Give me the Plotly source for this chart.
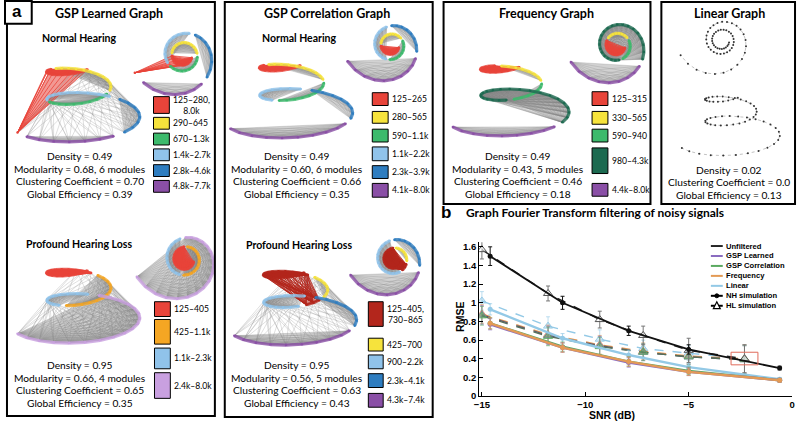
import numpy as np
import plotly.graph_objects as go

W, H = 800, 428

# ---------------- panel b: GFT filtering of noisy signals ----------------
snr_nh = [-14.6, -11.1, -7.9, -5.0, -0.6]
snr_hl = [-15.0, -11.8, -9.3, -7.2, -5.0, -2.3]

nh_unfiltered = [1.50, 1.00, 0.70, 0.50, 0.30]
nh_gsp_learned = [0.77, 0.52, 0.36, 0.26, 0.17]
nh_gsp_correlation = [0.78, 0.53, 0.37, 0.27, 0.17]
nh_frequency = [0.78, 0.52, 0.37, 0.26, 0.17]
nh_linear = [0.93, 0.62, 0.44, 0.31, 0.18]

hl_unfiltered = [1.57, 1.10, 0.82, 0.65, 0.49, 0.40]
hl_gsp_learned = [0.87, 0.65, 0.54, 0.47, 0.42, 0.39]
hl_gsp_correlation = [0.86, 0.64, 0.53, 0.47, 0.42, 0.39]
hl_frequency = [0.88, 0.66, 0.55, 0.48, 0.43, 0.40]
hl_linear = [1.02, 0.75, 0.61, 0.51, 0.46, 0.40]

nh_err_unfiltered = [0.10, 0.07, 0.05, 0.05, 0.02]
nh_err_filtered = [0.06, 0.05, 0.05, 0.04, 0.02]
hl_err_unfiltered = [0.10, 0.08, 0.09, 0.10, 0.13, 0.15]
hl_err_filtered = [0.10, 0.10, 0.10, 0.09, 0.08, 0.15]

method_names = ['Unfiltered', 'GSP Learned', 'GSP Correlation', 'Frequency', 'Linear']
method_colors = ['#111111', '#8a6cc0', '#5aa960', '#e39a55', '#93c9e6']
sim_names = ['NH simulation', 'HL simulation']

x_ticks = [-15, -10, -5, 0]
y_ticks = [0, 0.2, 0.4, 0.6, 0.8, 1, 1.2, 1.4, 1.6]

# ---------------- panel a: graph summaries ----------------
panel_titles = ['GSP Learned Graph', 'GSP Correlation Graph', 'Frequency Graph', 'Linear Graph']
hearing_titles = ['Normal Hearing', 'Profound Hearing Loss']

learned_nh_labels = ['125–280,<br>8.0k', '290–645', '670–1.3k', '1.4k–2.7k', '2.8k–4.6k', '4.8k–7.7k']
learned_nh_colors = ['#e8443a', '#f6e33c', '#3cba6c', '#90c3ea', '#2e7dc0', '#8a4fa6']
learned_nh_stats = ['Density = 0.49', 'Modularity = 0.68, 6 modules',
                    'Clustering Coefficient = 0.70', 'Global Efficiency = 0.39']

learned_hl_labels = ['125–405', '425–1.1k', '1.1k–2.3k', '2.4k–8.0k']
learned_hl_colors = ['#e8443a', '#f5a623', '#90c3ea', '#c9a0e0']
learned_hl_stats = ['Density = 0.95', 'Modularity = 0.66, 4 modules',
                    'Clustering Coefficient = 0.65', 'Global Efficiency = 0.35']

corr_nh_labels = ['125–265', '280–565', '590–1.1k', '1.1k–2.2k', '2.3k–3.9k', '4.1k–8.0k']
corr_nh_colors = ['#e8443a', '#f6e33c', '#3cba6c', '#90c3ea', '#2e7dc0', '#8a4fa6']
corr_nh_stats = ['Density = 0.49', 'Modularity = 0.60, 6 modules',
                 'Clustering Coefficient = 0.66', 'Global Efficiency = 0.35']

corr_hl_labels = ['125–405,<br>730–865', '425–700', '900–2.2k', '2.3k–4.1k', '4.3k–7.4k']
corr_hl_colors = ['#b3261c', '#f6e33c', '#90c3ea', '#2e7dc0', '#8a4fa6']
corr_hl_stats = ['Density = 0.95', 'Modularity = 0.56, 5 modules',
                 'Clustering Coefficient = 0.63', 'Global Efficiency = 0.43']

freq_labels = ['125–315', '330–565', '590–940', '980–4.3k', '4.4k–8.0k']
freq_colors = ['#e8443a', '#f6e33c', '#3cba6c', '#1c6a50', '#8a4fa6']
freq_stats = ['Density = 0.49', 'Modularity = 0.43, 5 modules',
              'Clustering Coefficient = 0.46', 'Global Efficiency = 0.18']

linear_stats = ['Density = 0.02', 'Clustering Coefficient = 0.0', 'Global Efficiency = 0.13']

FA = 'Lato'
FB = 'Liberation Sans'


def px(x):
    return x / W


def py(y):
    return 1 - y / H


annotations = []
shapes = []


def text(x, y, s, size, bold=False, anchor='center', family=FA, angle=0):
    annotations.append(dict(x=px(x), y=py(y), xref='paper', yref='paper', text=s,
                            showarrow=False, xanchor=anchor, yanchor='middle', textangle=angle,
                            font=dict(family=family, size=size, color='black',
                                      weight='bold' if bold else 'normal')))


def rect(x0, y0, x1, y1, line='black', width=1, fill=None):
    shapes.append(dict(type='rect', xref='paper', yref='paper', x0=px(x0), x1=px(x1),
                       y0=py(y1), y1=py(y0), line=dict(color=line, width=width),
                       fillcolor=fill if fill else 'rgba(0,0,0,0)', layer='above'))


def faded(c, a):
    c = c.lstrip('#')
    return 'rgba(%d,%d,%d,%.2f)' % (int(c[0:2], 16), int(c[2:4], 16), int(c[4:6], 16), a)


# ---- helpers for the cochlear graph sketches (pixel space on overlay axes) ----
def hz(tok):
    tok = tok.strip()
    return float(tok[:-1]) * 1000 if tok.endswith('k') else float(tok)


def ranges_of(label):
    out = []
    for part in label.replace('<br>', '').split(','):
        ends = [hz(t) for t in part.split('–')]
        out.append((ends[0], ends[-1]))
    return out


def modules_of(freqs, labels):
    rngs = [ranges_of(l) for l in labels]
    mod = []
    for f in freqs:
        lf = np.log(f)
        d = [min(0 if lo <= f <= hi else min(abs(lf - np.log(lo)), abs(lf - np.log(hi))) for lo, hi in r)
             for r in rngs]
        mod.append(int(np.argmin(d)))
    return np.array(mod)


N_NODES = 60
node_freqs = np.geomspace(125, 8000, N_NODES)


def spiral(cx, cy, sc, top_view):
    s = np.linspace(0, 1, N_NODES)
    if top_view:
        th = np.radians(160 - 2.4 * 360 * (1 - s))
        r = 9 + 13 * s + 30 * s ** 6
        return cx + sc * r * np.cos(th), cy + sc * r * np.sin(th)
    th = np.radians(165 - 2.3 * 360 * (1 - s))
    r = 28 + 8 * s + 42 * s ** 4
    return cx + sc * (20 * s + r * np.cos(th)), cy + sc * (65 * s + 0.32 * r * np.sin(th))


sketch_traces = []


def add_sketch(x, y, **kw):
    sketch_traces.append(go.Scatter(x=x, y=y, xaxis='x2', yaxis='y2', hoverinfo='skip',
                                    showlegend=False, **kw))


def draw_graph(cx, cy, sc, top_view, labels=None, colors=None, long_edges=False):
    x, y = spiral(cx, cy, sc, top_view)
    if labels is None:
        # linear graph: chain of nodes only
        add_sketch(x, y, mode='lines', line=dict(color='#9a9a9a', width=0.6, dash='dot'))
        add_sketch(x, y, mode='markers', marker=dict(color='#333333', size=2))
        return
    mod = modules_of(node_freqs, labels)
    # each module is densely wired: shade its hull, then draw a share of its edges
    for k, c in enumerate(colors):
        idx = np.where(mod == k)[0]
        if len(idx) < 3:
            continue
        add_sketch(list(x[idx]) + [x[idx[0]]], list(y[idx]) + [y[idx[0]]], mode='lines',
                   fill='toself', line=dict(width=0),
                   fillcolor=faded(c, 0.55) if k == 0 else 'rgba(165,165,165,0.5)')
    ex, ey, rx, ry = [], [], [], []
    for i in range(N_NODES):
        for j in range(i + 1, N_NODES):
            same = mod[i] == mod[j]
            far = long_edges and 20 <= (j - i) <= 28 and i > 14 and (j - i) % 2 == 0
            if not (same or far):
                continue
            if same and mod[i] == 0:
                rx += [x[i], x[j], None]
                ry += [y[i], y[j], None]
            else:
                ex += [x[i], x[j], None]
                ey += [y[i], y[j], None]
    add_sketch(ex, ey, mode='lines', line=dict(color='rgba(130,130,130,0.5)', width=0.5))
    add_sketch(rx, ry, mode='lines', line=dict(color=colors[0], width=0.8))
    for k, c in enumerate(colors):
        idx = np.where(mod == k)[0]
        if len(idx) == 0:
            continue
        xs, ys = [], []
        for a in idx:
            if a + 1 < N_NODES and mod[a + 1] == k:
                xs += [x[a], x[a + 1], None]
                ys += [y[a], y[a + 1], None]
        add_sketch(xs, ys, mode='lines', line=dict(color=c, width=3.2), opacity=0.8)
        add_sketch(x[idx], y[idx], mode='markers', marker=dict(color=c, size=2.5))


def module_legend(x0, rows, labels, colors, size=8.6, bw=16):
    for (t, b), lab, c in zip(rows, labels, colors):
        rect(x0, t, x0 + bw, b, fill=c, width=1)
        text(x0 + bw + 2, (t + b) / 2, lab, size, anchor='left')


def stats_block(cx, y0, lines, size=10.2, step=13):
    for k, s in enumerate(lines):
        text(cx, y0 + k * step, s, size)


# ---- panel frames ----
rect(2, 1, 212, 421, width=2)
rect(222, 1, 432, 422, width=2)
rect(443, 1, 652, 206, width=2)
rect(663, 1, 798, 206, width=2)
rect(0, 0, 27, 23, width=2, fill='white')
text(12, 11, 'a', 17, bold=True, family=FB)

# titles
text(105, 13, panel_titles[0], 12.5, bold=True)
text(325, 13, panel_titles[1], 12.5, bold=True)
text(547, 13, panel_titles[2], 12.5, bold=True)
text(732, 13, panel_titles[3], 12.5, bold=True)
text(75, 38, hearing_titles[0], 10.5, bold=True)
text(75, 246, hearing_titles[1], 10.5, bold=True)
text(297, 38, hearing_titles[0], 10.5, bold=True)
text(297, 247, hearing_titles[1], 10.5, bold=True)

# sketches
draw_graph(68, 62, 1.0, False, learned_nh_labels, learned_nh_colors, long_edges=True)
draw_graph(180, 55, 1.0, True, learned_nh_labels, learned_nh_colors)
draw_graph(68, 266, 1.0, False, learned_hl_labels, learned_hl_colors, long_edges=True)
draw_graph(182, 262, 1.0, True, learned_hl_labels, learned_hl_colors)
draw_graph(283, 58, 1.0, False, corr_nh_labels, corr_nh_colors)
draw_graph(390, 45, 0.9, True, corr_nh_labels, corr_nh_colors)
draw_graph(287, 268, 1.0, False, corr_hl_labels, corr_hl_colors, long_edges=True)
draw_graph(393, 262, 0.9, True, corr_hl_labels, corr_hl_colors)
draw_graph(505, 60, 0.95, False, freq_labels, freq_colors)
draw_graph(618, 45, 0.95, True, freq_labels, freq_colors)
draw_graph(728, 92, 0.8, False)
draw_graph(724, 40, 0.85, True)

# module legends
module_legend(150, [(97, 114), (118, 130), (134, 146), (150, 162), (166, 178), (182, 194)],
              learned_nh_labels, learned_nh_colors)
module_legend(151, [(305, 320), (323, 348), (352, 373), (377, 403)],
              learned_hl_labels, learned_hl_colors)
module_legend(371, [(93, 106), (112, 124), (130, 143), (148, 162), (167, 180), (185, 199)],
              corr_nh_labels, corr_nh_colors)
module_legend(367, [(305, 330), (342, 355), (359, 373), (378, 392), (398, 412)],
              corr_hl_labels, corr_hl_colors, bw=15)
module_legend(593, [(92, 106), (112, 125), (130, 143), (149, 175), (185, 198)],
              freq_labels, freq_colors)

# statistics
stats_block(76, 157, learned_nh_stats)
stats_block(76, 369, learned_hl_stats)
stats_block(295, 157, corr_nh_stats)
stats_block(295, 369, corr_hl_stats)
stats_block(518, 157, freq_stats)
stats_block(731, 171, linear_stats)

# ---------------- panel b traces ----------------
traces = []
nh_series = [nh_unfiltered, nh_gsp_learned, nh_gsp_correlation, nh_frequency, nh_linear]
hl_series = [hl_unfiltered, hl_gsp_learned, hl_gsp_correlation, hl_frequency, hl_linear]
hl_line_colors = ['#222222', '#5d5870', '#56705a', '#e39a55', '#93c9e6']

for k in [4, 3, 1, 2, 0]:
    c = method_colors[k]
    err = hl_err_unfiltered if k == 0 else hl_err_filtered
    traces.append(go.Scatter(
        x=snr_hl, y=hl_series[k], mode='lines+markers', showlegend=False,
        line=dict(color=hl_line_colors[k], width=1.4, dash='dash'),
        marker=dict(symbol='triangle-up', size=8,
                    color=faded(c, 0.4) if k else 'rgba(255,255,255,0.6)',
                    line=dict(color=faded(c, 0.9) if k else '#555555', width=1)),
        error_y=dict(type='data', array=err, color=faded(c, 0.6) if k else '#777777',
                     thickness=1, width=2)))
for k in [4, 2, 1, 3, 0]:
    c = method_colors[k]
    err = nh_err_unfiltered if k == 0 else nh_err_filtered
    traces.append(go.Scatter(
        x=snr_nh, y=nh_series[k], mode='lines+markers', showlegend=False,
        line=dict(color=c, width=1.8 if k == 0 else 2.4),
        marker=dict(symbol='circle', size=5, color=c),
        error_y=dict(type='data', array=err, color=c if k == 0 else faded(c, 0.7),
                     thickness=1, width=2)))

fig = go.Figure(data=traces + sketch_traces)

# highlight box at the last HL point
shapes.append(dict(type='rect', xref='x', yref='y', x0=-2.95, x1=-1.65, y0=0.335, y1=0.47,
                   line=dict(color='#e06a5a', width=1)))

# manual legend for panel b
leg_y0, leg_dy = 248.5, 10.1
for k, name in enumerate(method_names + sim_names):
    yy = leg_y0 + k * leg_dy
    col = method_colors[k] if k < 5 else 'black'
    shapes.append(dict(type='line', xref='paper', yref='paper', x0=px(713), x1=px(725),
                       y0=py(yy), y1=py(yy), line=dict(color=col, width=2 if k else 1.8)))
    text(726.5, yy, name, 7.6, bold=True, anchor='left', family=FB)
shapes.append(dict(type='circle', xref='paper', yref='paper', x0=px(717), x1=px(721),
                   y0=py(leg_y0 + 5 * leg_dy + 2), y1=py(leg_y0 + 5 * leg_dy - 2),
                   fillcolor='black', line=dict(color='black', width=1)))
ty = leg_y0 + 6 * leg_dy
shapes.append(dict(type='path', xref='paper', yref='paper',
                   path='M %f %f L %f %f L %f %f Z' % (px(715.5), py(ty + 3), px(722.5), py(ty + 3),
                                                         px(719), py(ty - 4)),
                   fillcolor='white', line=dict(color='black', width=1.2)))

text(445, 214, 'b', 17, bold=True, family=FB)
text(464, 214, 'Graph Fourier Transform filtering of noisy signals', 12, bold=True, anchor='left')
text(613, 420, 'SNR (dB)', 10.5, bold=True, family=FB)
text(459, 320, 'RMSE', 10.5, bold=True, family=FB, angle=-90)

axis_font = dict(family=FB, size=9.5, color='black', weight='bold')
fig.update_layout(
    width=W, height=H, margin=dict(l=0, r=0, t=0, b=0),
    paper_bgcolor='white', plot_bgcolor='rgba(0,0,0,0)',
    showlegend=False,
    xaxis=dict(domain=[px(479), px(795)], range=[-15.13, 0], tickvals=x_ticks,
               ticks='inside', ticklen=4, tickcolor='black', showline=True, linecolor='black',
               linewidth=1, showgrid=False, zeroline=False, tickfont=axis_font, anchor='y'),
    yaxis=dict(domain=[py(400.7), py(244.6)], range=[0, 1.65], tickvals=y_ticks,
               ticks='inside', ticklen=4, tickcolor='black', showline=True, linecolor='black',
               linewidth=1, showgrid=False, zeroline=False, tickfont=axis_font, anchor='x'),
    xaxis2=dict(domain=[0, 1], range=[0, W], visible=False, anchor='y2', fixedrange=True),
    yaxis2=dict(domain=[0, 1], range=[H, 0], visible=False, anchor='x2', fixedrange=True),
    annotations=annotations, shapes=shapes,
)

# the page body keeps the browser's default 8px margin otherwise
fig.write_html('out.html', config={'displayModeBar': False},
               post_script="document.body.style.margin='0';")
